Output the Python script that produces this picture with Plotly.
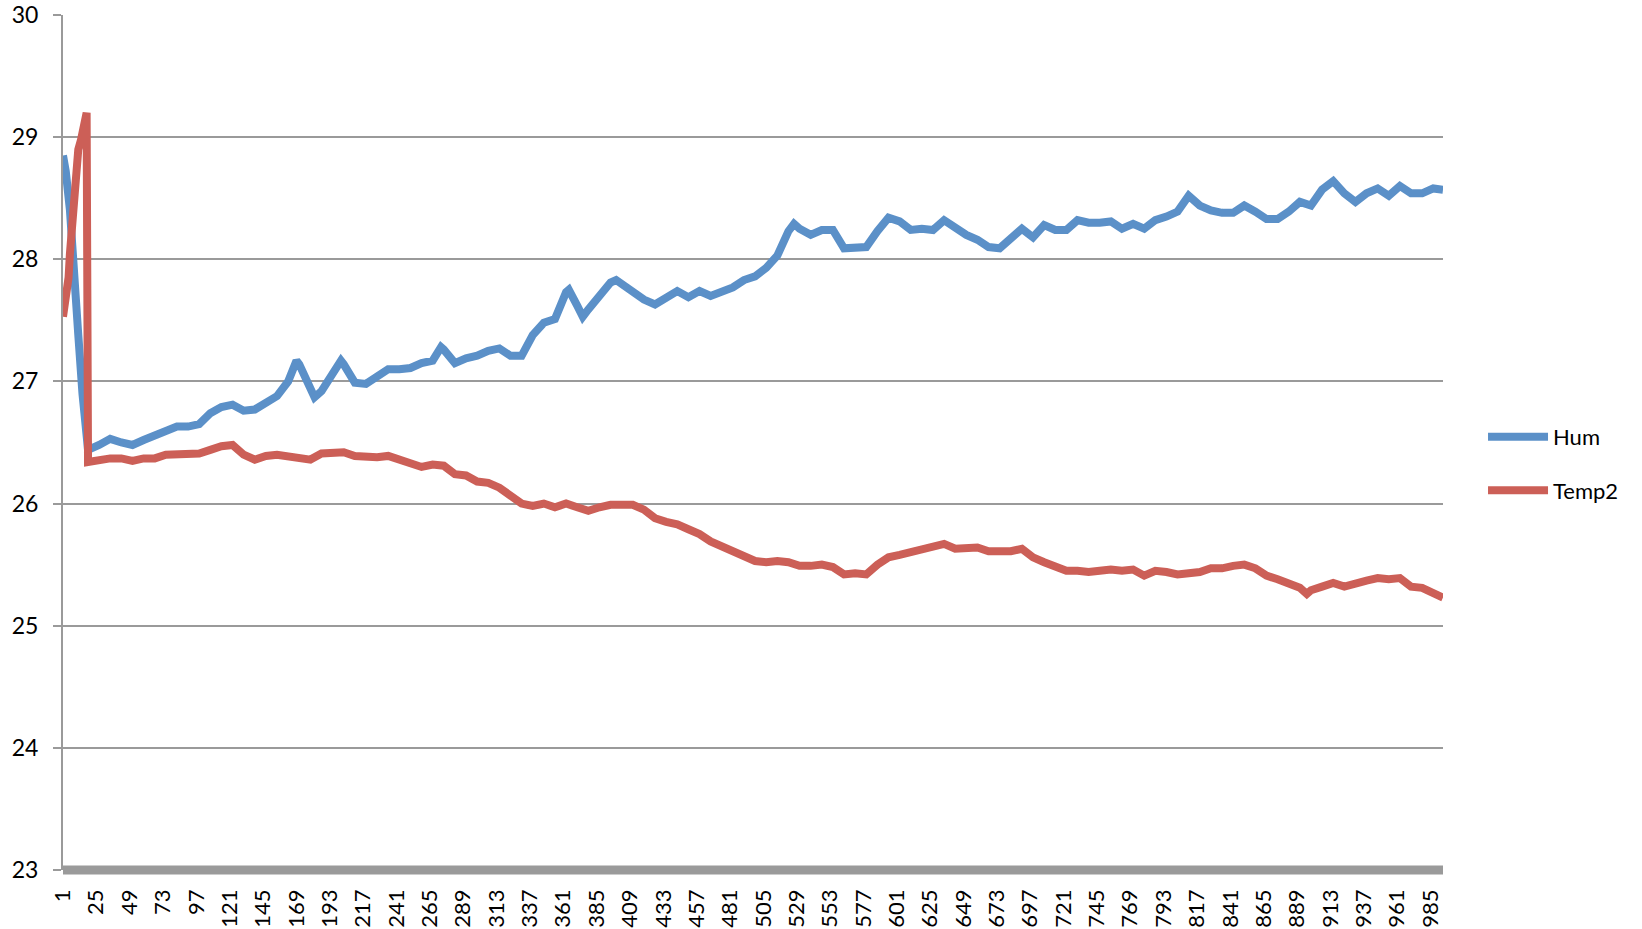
import plotly.graph_objects as go

# ---- data (sample index -> value) ----
hum_idx = [1, 3, 6, 8, 12, 15, 18, 19, 27, 35, 43, 51, 59, 67, 75, 83, 91, 99, 107, 115, 123, 131, 139,
           147, 155, 163, 169, 171, 179, 182, 187, 195, 201, 203, 211, 219, 227, 235, 243, 251, 259, 267,
           273, 275, 283, 291, 299, 307, 315, 323, 331, 339, 347, 355, 363, 365, 371, 375, 379, 387, 395,
           399, 403, 411, 419, 427, 435, 443, 451, 459, 467, 475, 483, 491, 499, 507, 515, 523, 527, 531,
           539, 547, 555, 563, 571, 579, 587, 595, 603, 611, 619, 627, 635, 643, 651, 659, 667, 675, 683,
           691, 699, 707, 715, 723, 731, 739, 747, 755, 763, 771, 779, 787, 795, 803, 811, 819, 827, 835,
           843, 851, 859, 867, 875, 883, 891, 899, 907, 915, 923, 931, 939, 947, 955, 963, 971, 979, 987, 994]
hum_val = [28.85, 28.72, 28.40, 27.98, 27.38, 26.90, 26.50, 26.44, 26.48, 26.53, 26.50, 26.48, 26.52,
           26.56, 26.59, 26.63, 26.63, 26.65, 26.74, 26.79, 26.81, 26.76, 26.77, 26.83, 26.88, 27.00,
           27.17, 27.14, 26.93, 26.87, 26.92, 27.08, 27.17, 27.14, 26.99, 26.98, 27.04, 27.10, 27.10,
           27.11, 27.15, 27.17, 27.28, 27.26, 27.15, 27.19, 27.21, 27.25, 27.27, 27.21, 27.21, 27.38,
           27.48, 27.51, 27.73, 27.75, 27.62, 27.53, 27.59, 27.71, 27.81, 27.83, 27.80, 27.74, 27.67,
           27.63, 27.68, 27.74, 27.69, 27.74, 27.70, 27.73, 27.77, 27.83, 27.86, 27.93, 28.03, 28.23,
           28.29, 28.25, 28.20, 28.24, 28.24, 28.09, 28.09, 28.10, 28.23, 28.34, 28.31, 28.24, 28.25,
           28.24, 28.32, 28.26, 28.20, 28.16, 28.10, 28.09, 28.18, 28.25, 28.18, 28.28, 28.24, 28.24,
           28.32, 28.30, 28.30, 28.31, 28.25, 28.29, 28.25, 28.32, 28.35, 28.39, 28.52, 28.44, 28.40,
           28.38, 28.38, 28.44, 28.39, 28.33, 28.33, 28.39, 28.47, 28.44, 28.57, 28.64, 28.54, 28.47,
           28.54, 28.58, 28.52, 28.60, 28.54, 28.54, 28.58, 28.57]

temp_idx = [1, 3, 5, 6, 9, 12, 14, 17, 18, 19, 27, 35, 43, 51, 59, 67, 75, 83, 91, 99, 107, 115, 123,
            131, 139, 147, 155, 163, 171, 179, 187, 195, 203, 211, 219, 227, 235, 243, 251, 259, 267,
            275, 283, 291, 299, 307, 315, 323, 331, 339, 347, 355, 363, 371, 379, 387, 395, 403, 411,
            419, 427, 435, 443, 451, 459, 467, 475, 483, 491, 499, 507, 515, 523, 531, 539, 547, 555,
            563, 571, 579, 587, 595, 603, 611, 619, 627, 635, 643, 651, 659, 667, 675, 683, 691, 699,
            707, 715, 723, 731, 739, 747, 755, 763, 771, 779, 787, 795, 803, 811, 819, 827, 835, 843,
            851, 859, 867, 875, 883, 891, 896, 899, 907, 915, 923, 931, 939, 947, 955, 963, 971, 979,
            987, 994]
temp_val = [27.53, 27.68, 27.85, 28.05, 28.55, 28.90, 28.98, 29.15, 29.20, 26.34, 26.36, 26.37, 26.37,
            26.35, 26.37, 26.37, 26.40, 26.40, 26.41, 26.41, 26.44, 26.47, 26.48, 26.40, 26.36, 26.39,
            26.40, 26.39, 26.38, 26.36, 26.41, 26.42, 26.42, 26.39, 26.38, 26.38, 26.39, 26.36, 26.34,
            26.30, 26.32, 26.31, 26.24, 26.23, 26.18, 26.17, 26.13, 26.07, 26.00, 25.98, 26.00, 25.97,
            26.00, 25.97, 25.94, 25.97, 25.99, 25.99, 25.99, 25.95, 25.88, 25.85, 25.83, 25.79, 25.75,
            25.69, 25.65, 25.62, 25.58, 25.53, 25.52, 25.53, 25.52, 25.49, 25.49, 25.50, 25.48, 25.42,
            25.43, 25.42, 25.50, 25.56, 25.58, 25.60, 25.62, 25.64, 25.67, 25.63, 25.64, 25.64, 25.61,
            25.61, 25.61, 25.63, 25.56, 25.52, 25.49, 25.45, 25.45, 25.44, 25.45, 25.46, 25.45, 25.46,
            25.41, 25.45, 25.44, 25.42, 25.43, 25.44, 25.47, 25.47, 25.49, 25.50, 25.47, 25.41, 25.38,
            25.35, 25.31, 25.26, 25.29, 25.32, 25.35, 25.32, 25.35, 25.37, 25.39, 25.38, 25.39, 25.32,
            25.31, 25.26, 25.23]

n_points = 994
x_tick_labels = ["1", "25", "49", "73", "97", "121", "145", "169", "193", "217", "241", "265", "289",
                 "313", "337", "361", "385", "409", "433", "457", "481", "505", "529", "553", "577",
                 "601", "625", "649", "673", "697", "721", "745", "769", "793", "817", "841", "865",
                 "889", "913", "937", "961", "985"]
y_ticks = [23, 24, 25, 26, 27, 28, 29, 30]

BLUE = "#5B90C8"
RED = "#CC5F57"
GRID = "#9A9A9A"
FONT = "Lato, Carlito, 'Open Sans', sans-serif"

fig = go.Figure()
fig.add_trace(go.Scatter(x=hum_idx, y=hum_val, name="Hum", mode="lines", legendgroup="hum",
                         line=dict(color=BLUE, width=8), cliponaxis=False))
fig.add_trace(go.Scatter(x=temp_idx, y=temp_val, name="Temp2", mode="lines", legendgroup="temp",
                         line=dict(color=RED, width=8), cliponaxis=False))

# thick category-axis band along the bottom of the plot (Excel draws one tick per category)
fig.add_shape(type="line", xref="paper", x0=0, x1=1, yref="paper", y0=0, y1=0,
              line=dict(color=GRID, width=9), layer="below")

fig.update_layout(
    width=1642, height=929,
    margin=dict(l=63, r=199, t=15, b=59, autoexpand=False),
    plot_bgcolor="white", paper_bgcolor="white",
    font=dict(family=FONT, size=22, color="black"),
    showlegend=True,
    legend=dict(x=1.029, xanchor="left", y=0.475, yanchor="middle",
                traceorder="grouped", tracegroupgap=22, itemwidth=60,
                font=dict(family=FONT, size=22, color="black"),
                bgcolor="rgba(0,0,0,0)"),
)
fig.update_xaxes(
    range=[1, n_points], tickmode="array", automargin=False,
    tickvals=[int(t) for t in x_tick_labels], ticktext=x_tick_labels,
    tickangle=-90, showgrid=False, zeroline=False,
    showline=False, ticks="", ticklabelstandoff=14,
    tickfont=dict(family=FONT, size=22, color="black"),
)
fig.update_yaxes(
    range=[23, 30], tickmode="array", tickvals=y_ticks, automargin=False,
    showgrid=True, gridcolor=GRID, gridwidth=2, zeroline=False,
    ticks="outside", ticklen=8, tickwidth=2, tickcolor=GRID,
    showline=True, linecolor=GRID, linewidth=2,
    ticklabelstandoff=10,
    tickfont=dict(family=FONT, size=23, color="black"),
)

# remove the default 8px page margin so the 1642x929 figure fills the window exactly
fig.write_html("out.html", config={"displayModeBar": False},
               post_script="document.body.style.margin='0';document.body.style.overflow='hidden';")
